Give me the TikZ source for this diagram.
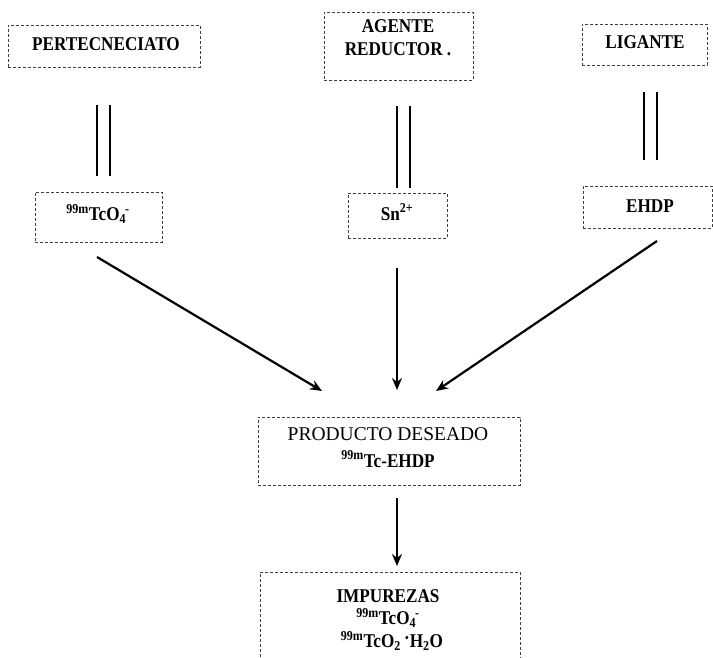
\documentclass[tikz,border=0pt]{standalone}
\usepackage{fontspec}
\setmainfont{Liberation Serif}
\newfontfamily\lblfont[FakeStretch=0.88]{Liberation Serif}
\usetikzlibrary{arrows.meta}
\begin{document}
\begin{tikzpicture}[x=1pt,y=-1pt,
  boxst/.style={draw=black!75, line width=0.7pt, densely dashed, inner sep=0pt},
  lbl/.style={font=\lblfont\fontsize{19.5}{23}\selectfont\bfseries, inner sep=0pt, align=center},
  plain/.style={font=\fontsize{19.5}{23}\selectfont, inner sep=0pt, align=center},
  bond/.style={line width=2.4pt},
  arr/.style={line width=2.2pt, -{Stealth[length=12pt,width=10pt]}}]
\useasboundingbox (0,0) rectangle (713,658);

% boxes
\node[boxst, minimum width=192pt, minimum height=42pt] (pbox) at (104,46) {};
\node[boxst, minimum width=149pt, minimum height=68pt] (abox) at (398.5,46) {};
\node[boxst, minimum width=125pt, minimum height=41pt] (lbox) at (644.5,44.5) {};
\node[boxst, minimum width=127pt, minimum height=50pt] (tbox) at (98.5,217) {};
\node[boxst, minimum width=99pt, minimum height=45pt] (sbox) at (397.5,215.5) {};
\node[boxst, minimum width=129pt, minimum height=42pt] (ebox) at (647.5,207) {};
\node[boxst, minimum width=262pt, minimum height=68pt] (prbox) at (389,451) {};
\node[boxst, minimum width=260pt, minimum height=108pt] (ibox) at (390,626) {};

% texts
\node[lbl] (ptxt) at (106,44) {PERTECNECIATO};
\node[lbl] (atxt) at (398,38) {AGENTE\\REDUCTOR .};
\node[lbl] (ltxt) at (645,42) {LIGANTE};
\node[lbl] (ttxt) at (98,214) {\textsuperscript{99m}TcO\textsubscript{4}\kern-0.05em\textsuperscript{-}};
\node[lbl] (stxt) at (397,212) {Sn\textsuperscript{2+}};
\node[lbl] (etxt) at (650,206) {EHDP};
\node[plain] (prtxt) at (388,434) {PRODUCTO DESEADO};
\node[lbl] (prtxt2) at (388,459) {\textsuperscript{99m}Tc-EHDP};
\node[lbl] (itxt) at (388,596) {IMPUREZAS};
\node[lbl] (itxt2) at (388,618) {\textsuperscript{99m}TcO\textsubscript{4}\kern-0.05em\textsuperscript{-}};
\node[lbl] (itxt3) at (392,641) {\textsuperscript{99m}TcO\textsubscript{2}\,\raisebox{0.35ex}{·}H\textsubscript{2}O};

% double bonds
\coordinate (p1a) at (97,105);  \coordinate (p1b) at (97,176);
\coordinate (p2a) at (110,105); \coordinate (p2b) at (110,176);
\coordinate (a1a) at (397,106); \coordinate (a1b) at (397,188);
\coordinate (a2a) at (410,106); \coordinate (a2b) at (410,188);
\coordinate (l1a) at (644,92);  \coordinate (l1b) at (644,160);
\coordinate (l2a) at (657,92);  \coordinate (l2b) at (657,160);
\draw[bond] (p1a) -- (p1b);
\draw[bond] (p2a) -- (p2b);
\draw[bond] (a1a) -- (a1b);
\draw[bond] (a2a) -- (a2b);
\draw[bond] (l1a) -- (l1b);
\draw[bond] (l2a) -- (l2b);

% arrows
\coordinate (t0) at (97,257);  \coordinate (t1) at (322,391);
\coordinate (s0) at (397,268); \coordinate (s1) at (397,390);
\coordinate (e0) at (657,241); \coordinate (e1) at (436,391);
\coordinate (r0) at (397,498); \coordinate (r1) at (397,566);
\draw[arr] (t0) -- (t1);
\draw[arr] (s0) -- (s1);
\draw[arr] (e0) -- (e1);
\draw[arr] (r0) -- (r1);
\end{tikzpicture}
\end{document}
